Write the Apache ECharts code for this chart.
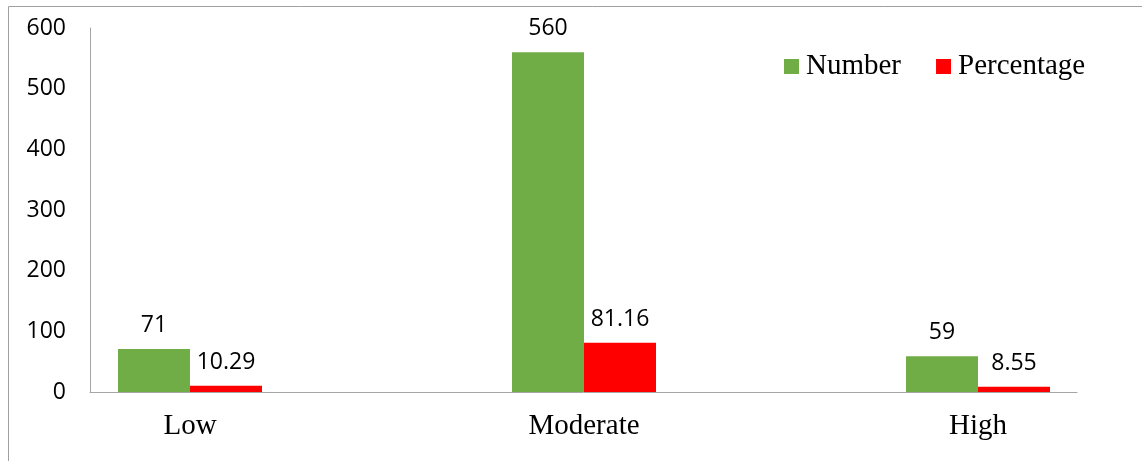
<!DOCTYPE html>
<html>
<head>
<meta charset="utf-8">
<script src="https://cdn.jsdelivr.net/npm/echarts@6/dist/echarts.min.js"></script>
<style>
html,body{margin:0;padding:0;background:#fff;overflow:hidden;width:1142px;height:461px;position:relative;}
#c{position:absolute;left:-7px;top:0;width:1182px;height:461px;}
</style>
</head>
<body>
<div id="c"></div>
<script>
const categories = ['Low', 'Moderate', 'High'];
const numberValues = [71, 560, 59];
const percentageValues = [10.29, 81.16, 8.55];
const yTicks = [0, 100, 200, 300, 400, 500, 600];

// container is shifted 7px left; all x positions below are +7 relative to the page
const chart = echarts.init(document.getElementById('c'), null, {renderer: 'canvas'});
const axisGray = '#a6a6a6';
const labelFont = 'Open Sans';
const serifFont = 'Liberation Serif';

chart.setOption({
  animation: false,
  backgroundColor: '#fff',
  graphic: [{
    type: 'polyline',
    shape: {points: [[15.5, 470], [15.5, 6.5], [1200, 6.5]]},
    style: {stroke: '#a0a0a0', lineWidth: 1, fill: null},
    silent: true
  }],
  legend: {
    left: 791, top: 52, padding: 0,
    itemWidth: 15, itemHeight: 15, itemGap: 35,
    icon: 'rect',
    textStyle: {fontFamily: serifFont, fontSize: 29, color: '#000', padding: [0, 0, 0, 2]},
    data: ['Number', 'Percentage']
  },
  grid: [
    {left: 0, width: 1182, top: 28, height: 364, containLabel: false, outerBoundsMode: 'none'},
    {left: 97, width: 987, top: 28, height: 364, containLabel: false, outerBoundsMode: 'none'}
  ],
  xAxis: [
    {
      type: 'category', gridIndex: 0, data: categories, boundaryGap: true,
      axisLine: {show: false}, axisTick: {show: false},
      axisLabel: {fontFamily: serifFont, fontSize: 29, color: '#000', margin: 20}
    },
    {
      type: 'value', gridIndex: 1, min: 0, max: 1,
      axisLine: {show: true, lineStyle: {color: axisGray, width: 1}},
      axisTick: {show: false}, axisLabel: {show: false}, splitLine: {show: false}
    }
  ],
  yAxis: [
    {type: 'value', gridIndex: 0, min: yTicks[0], max: yTicks[yTicks.length - 1], interval: 100, show: false},
    {
      type: 'value', gridIndex: 1, min: yTicks[0], max: yTicks[yTicks.length - 1], interval: 100,
      axisLine: {show: true, lineStyle: {color: axisGray, width: 1}},
      axisTick: {show: false}, splitLine: {show: false},
      axisLabel: {fontFamily: labelFont, fontSize: 23, color: '#000', margin: 24}
    }
  ],
  series: [
    {
      name: 'Number', type: 'bar', xAxisIndex: 0, yAxisIndex: 0,
      data: numberValues, barWidth: 72, barGap: '0%',
      itemStyle: {color: '#70ad47'},
      label: {show: true, position: 'top', distance: 12, fontFamily: labelFont, fontSize: 23, color: '#000'}
    },
    {
      name: 'Percentage', type: 'bar', xAxisIndex: 0, yAxisIndex: 0,
      data: percentageValues, barWidth: 72, barGap: '0%',
      itemStyle: {color: '#ff0000'},
      label: {show: true, position: 'top', distance: 12, fontFamily: labelFont, fontSize: 23, color: '#000'}
    }
  ]
});
</script>
</body>
</html>
